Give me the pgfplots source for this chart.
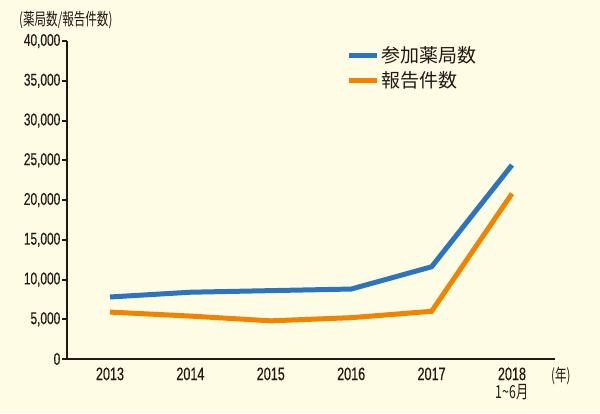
\documentclass[border=0pt]{standalone}
\usepackage{fontspec}
\setmainfont{Liberation Sans}[FakeStretch=0.70, FakeBold=0.4]
\newfontfamily\cjk{Noto Sans CJK JP}
\newfontfamily\cjkn{Noto Sans CJK JP}[FakeStretch=0.68]
\usepackage{pgfplots}
\pgfplotsset{compat=1.18}
\definecolor{bg}{RGB}{255,252,229}
\definecolor{ink}{RGB}{35,24,21}
\definecolor{cblue}{RGB}{44,117,190}
\definecolor{corange}{RGB}{240,131,0}
\begin{document}
\begin{tikzpicture}[x=1pt,y=1pt]
\fill[bg] (0,0) rectangle (600,413);
\begin{axis}[
  at={(67pt,54pt)}, anchor=south west,
  scale only axis, width=488pt, height=318pt,
  xmin=-0.535, xmax=5.535, ymin=0, ymax=40000,
  axis x line*=bottom, axis y line*=left,
  axis line style={ink, line width=2.4pt},
  xtick={0,1,2,3,4,5},
  xticklabels={2013,2014,2015,2016,2017,{2018\\[1pt]{\cjkn 1\textasciitilde6月}}},
  xticklabel style={align=center, font=\fontsize{18}{17}\selectfont, text=ink},
  x tick style={draw=none},
  ytick={0,5000,10000,15000,20000,25000,30000,35000,40000},
  scaled y ticks=false,
  yticklabel style={font=\fontsize{17}{17}\selectfont, text=ink, inner sep=1.5pt,
    /pgf/number format/.cd, 1000 sep={,}, assume math mode=true},
  y tick style={ink, line width=2pt},
  tick align=outside, major tick length=5pt,
  legend style={at={(0.572,0.99)}, anchor=north west, draw=none, fill=none,
    font=\cjk\fontsize{19}{20}\selectfont, text=ink, inner sep=0pt,
    row sep=4pt},
  legend cell align=left,
  legend image code/.code={\draw[#1, line width=5pt] (0pt,0pt) -- (28pt,0pt);},
]
\addplot[cblue, line width=5pt] coordinates {(0,7800) (1,8400) (2,8600) (3,8800) (4,11600) (5,24400)};
\addlegendentry{参加薬局数}
\addplot[corange, line width=5pt] coordinates {(0,5900) (1,5400) (2,4800) (3,5200) (4,6000) (5,20800)};
\addlegendentry{報告件数}
\end{axis}
\node[anchor=west, text=ink, font=\cjkn\fontsize{17}{17}\selectfont, inner sep=0pt] at (19,393) {(薬局数/報告件数)};
\node[anchor=west, text=ink, font=\cjkn\fontsize{17}{17}\selectfont, inner sep=0pt] at (551,37) {(年)};
\pgfresetboundingbox
\path (0,0) rectangle (600,413);
\end{tikzpicture}
\end{document}
